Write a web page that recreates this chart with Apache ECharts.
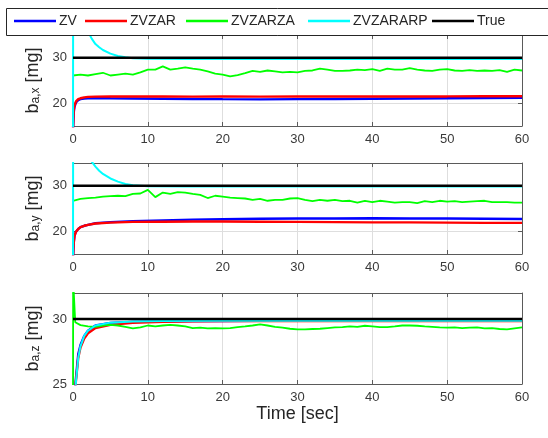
<!DOCTYPE html>
<html><head><meta charset="utf-8">
<script src="https://cdn.jsdelivr.net/npm/echarts@6/dist/echarts.min.js"></script>
<style>html,body{margin:0;padding:0;background:#fff}#c{width:548px;height:438px}</style>
</head><body><div id="c"></div>
<script>
// ---------- data ----------
const seriesNames = ['ZV', 'ZVZAR', 'ZVZARZA', 'ZVZARARP', 'True'];
const yLabels = ['a,x', 'a,y', 'a,z'];
const xLabel = 'Time [sec]';
const yTicks = [[20, 30], [20, 30], [25, 30]];
const yRanges = [[15, 35], [15, 35], [25, 32]];

const tSec = [0,1,2,3,4,5,6,7,8,9,10,11,12,13,14,15,16,17,18,19,20,21,22,23,24,25,26,27,28,29,30,
  31,32,33,34,35,36,37,38,39,40,41,42,43,44,45,46,47,48,49,50,51,52,53,54,55,56,57,58,59,60];
const tTrue = [0, 60];
const tEst = [0, 0.1, 0.2, 0.4, 0.7, 1, 1.5, 2, 3, 5, 8, 12, 16, 20, 25, 30, 35, 40, 45, 50, 55, 60];
const tCyan = [0, 0.03, 0.5, 1, 1.5, 2, 2.5, 3, 3.5, 4, 5, 6, 7, 8, 10, 15, 20, 30, 40, 50, 60];
const tCyanZ = [0, 0.2, 0.4, 0.7, 1, 1.5, 2, 3, 5, 8, 12, 20, 30, 40, 50, 60];
const tGreenZStart = [0, 0.02, 0.3];

// subplot 1 : b_a,x
const trueX = [30, 30];
const zvX = [14, 18, 19.2, 20.2, 20.7, 20.9, 21.05, 21.1, 21.15, 21.1, 21.05, 21.0, 20.95, 20.9, 20.85, 20.9, 20.95, 21.0, 21.05, 21.1, 21.15, 21.2];
const zvzarX = [14, 18.5, 19.5, 20.4, 20.9, 21.1, 21.3, 21.4, 21.45, 21.5, 21.5, 21.5, 21.45, 21.5, 21.45, 21.5, 21.5, 21.5, 21.5, 21.5, 21.55, 21.55];
const zvzarzaX = [26.1, 26.3, 26.1, 26.4, 26.7, 26.1, 26.3, 26.5, 26.3, 26.8,
  27.4, 27.4, 28.1, 27.4, 27.6, 27.9, 27.6, 27.4, 27.0, 26.5,
  26.3, 25.9, 26.2, 26.6, 27.1, 26.9, 27.2, 27.0, 26.8, 26.9,
  26.8, 27.1, 27.2, 27.6, 27.4, 27.1, 27.1, 27.2, 27.4, 27.3,
  27.5, 27.1, 27.6, 27.4, 27.4, 27.7, 27.4, 27.2, 27.1, 27.4,
  27.5, 27.2, 27.1, 27.3, 27.1, 27.2, 27.1, 27.3, 26.9, 27.4, 27.2];
const zvzararpX = [10, 70, 52, 44, 39, 35.8, 34.2, 33.0, 32.3, 31.7, 30.9, 30.4, 30.1, 29.9, 29.8, 29.75, 29.75, 29.75, 29.75, 29.75, 29.75];

// subplot 2 : b_a,y
const trueY = [30, 30];
const zvY = [14, 17.5, 19, 19.9, 20.5, 20.9, 21.2, 21.4, 21.75, 22.0, 22.2, 22.4, 22.55, 22.65, 22.75, 22.8, 22.8, 22.85, 22.8, 22.8, 22.75, 22.7];
const zvzarY = [14, 17.5, 19, 19.9, 20.5, 20.9, 21.2, 21.4, 21.7, 21.9, 22.05, 22.1, 22.15, 22.15, 22.1, 22.05, 22.0, 21.95, 21.95, 21.9, 21.85, 21.85];
const zvzarzaY = [26.7, 27.1, 27.3, 27.4, 27.6, 27.7, 27.8, 27.7, 28.2, 28.3,
  29.1, 27.5, 28.5, 28.2, 28.6, 28.5, 28.2, 28.0, 27.3, 27.8,
  27.6, 27.4, 27.3, 27.2, 26.9, 27.1, 26.7, 26.9, 26.9, 27.2,
  27.3, 26.9, 26.6, 26.9, 26.7, 26.9, 26.6, 26.7, 26.3, 26.7,
  26.4, 26.7, 26.5, 26.3, 26.4, 26.4, 26.2, 26.6, 26.4, 26.7,
  26.5, 26.6, 26.4, 26.5, 26.6, 26.7, 26.4, 26.4, 26.4, 26.3, 26.3];
const zvzararpY = [10, 70, 55, 47, 41, 37, 35.3, 34.2, 33.3, 32.6, 31.6, 30.9, 30.4, 30.1, 29.9, 29.85, 29.85, 29.85, 29.85, 29.85, 29.85];

// subplot 3 : b_a,z
const trueZ = [30, 30];
const zvZ = [22, 23, 24, 25.5, 27.3, 28.0, 28.7, 29.1, 29.5, 29.7, 29.78, 29.82, 29.84, 29.85, 29.86, 29.86, 29.86, 29.86, 29.86, 29.86, 29.86, 29.86];
const zvzarZ = [22, 23, 24, 25.3, 27.0, 27.8, 28.5, 28.9, 29.3, 29.55, 29.7, 29.78, 29.82, 29.84, 29.85, 29.85, 29.85, 29.85, 29.85, 29.85, 29.85, 29.85];
const zvzarzaZStart = [24, 33, 29.75];
const zvzarzaZ = [29.53, 29.43, 29.4, 29.5, 29.55, 29.5, 29.4, 29.28, 29.35, 29.5,
  29.43, 29.5, 29.55, 29.5, 29.43, 29.3, 29.33, 29.28, 29.3, 29.28,
  29.3, 29.38, 29.43, 29.5, 29.58, 29.5, 29.4, 29.33, 29.25, 29.2,
  29.2, 29.23, 29.25, 29.3, 29.35, 29.38, 29.43, 29.4, 29.48, 29.43,
  29.38, 29.38, 29.43, 29.5, 29.5, 29.48, 29.43, 29.4, 29.35, 29.33,
  29.35, 29.3, 29.33, 29.35, 29.28, 29.3, 29.23, 29.2, 29.28, 29.35];
const zvzararpZ = [20, 23.5, 25.2, 27.0, 27.9, 28.7, 29.1, 29.5, 29.72, 29.8, 29.84, 29.86, 29.87, 29.87, 29.87, 29.87];

// ---------- chart ----------
const FONT = 'Liberation Sans, Arial, Helvetica, sans-serif';
const AX = '#5a5a5a', LBL = '#3a3a3a', GRIDC = '#dedede';
const COLORS = {ZV: '#0000ff', ZVZAR: '#ff0000', ZVZARZA: '#00ff00', ZVZARARP: '#00ffff', True: '#000000'};
const WIDTHS = {ZV: 2.4, ZVZAR: 2.4, ZVZARZA: 1.8, ZVZARARP: 2, True: 2.5};
const LEGEND_LEFT = [14, 85, 186, 308, 432];
const zip = (t, v) => t.map((x, i) => [x, v[i]]);

const grids = [
  {left: 73, top: 35, width: 449, height: 91},
  {left: 73, top: 163, width: 449, height: 91},
  {left: 73, top: 293, width: 449, height: 91}
];

const xAxes = [], yAxes = [];
grids.forEach((g, i) => {
  xAxes.push({type: 'value', gridIndex: i, min: 0, max: 60, interval: 10, position: 'bottom',
    axisLine: {show: true, onZero: false, lineStyle: {color: AX, width: 1}},
    axisTick: {show: true, inside: true, length: 4, lineStyle: {color: AX}},
    axisLabel: {show: true, color: LBL, fontSize: 13, fontFamily: FONT, margin: 7},
    splitLine: {show: true, lineStyle: {color: GRIDC, width: 1}},
    name: i === 2 ? xLabel : '', nameLocation: 'middle', nameGap: 19,
    nameTextStyle: {fontSize: 18, fontFamily: FONT, color: '#262626'}});
  xAxes.push({type: 'value', gridIndex: i, min: 0, max: 60, interval: 10, position: 'top',
    axisLine: {show: true, onZero: false, lineStyle: {color: AX, width: 1}},
    axisTick: {show: true, inside: true, length: 4, lineStyle: {color: AX}},
    axisLabel: {show: false}, splitLine: {show: false}});
  const r = yRanges[i];
  yAxes.push({type: 'value', gridIndex: i, min: r[0], max: r[1], position: 'left',
    axisLine: {show: true, onZero: false, lineStyle: {color: AX, width: 1}},
    axisTick: {show: true, inside: true, length: 4, customValues: yTicks[i], lineStyle: {color: AX}},
    axisLabel: {show: true, customValues: yTicks[i], color: LBL, fontSize: 13, fontFamily: FONT, margin: 6},
    splitLine: {show: true, lineStyle: {color: GRIDC, width: 1}},
    name: '{b|b}{s|' + yLabels[i] + '}{b| [mg]}', nameLocation: 'middle', nameRotate: 90, nameGap: 31,
    nameTextStyle: {color: '#262626', fontFamily: FONT,
      rich: {b: {fontSize: 18, lineHeight: 18, verticalAlign: 'top', fontFamily: FONT, color: '#262626'},
             s: {fontSize: 12, lineHeight: 12, verticalAlign: 'bottom', padding: [10, 0, 0, 0], fontFamily: FONT, color: '#262626'}}}});
  yAxes.push({type: 'value', gridIndex: i, min: r[0], max: r[1], position: 'right',
    axisLine: {show: true, onZero: false, lineStyle: {color: AX, width: 1}},
    axisTick: {show: true, inside: true, length: 4, customValues: yTicks[i], lineStyle: {color: AX}},
    axisLabel: {show: false}, splitLine: {show: false}});
});

const plotData = [
  {ZV: zip(tEst, zvX), ZVZAR: zip(tEst, zvzarX), ZVZARZA: zip(tSec, zvzarzaX), ZVZARARP: zip(tCyan, zvzararpX), True: zip(tTrue, trueX)},
  {ZV: zip(tEst, zvY), ZVZAR: zip(tEst, zvzarY), ZVZARZA: zip(tSec, zvzarzaY), ZVZARARP: zip(tCyan, zvzararpY), True: zip(tTrue, trueY)},
  {ZV: zip(tEst, zvZ), ZVZAR: zip(tEst, zvzarZ),
   ZVZARZA: zip(tGreenZStart.concat(tSec.slice(1)), zvzarzaZStart.concat(zvzarzaZ)),
   ZVZARARP: zip(tCyanZ, zvzararpZ), True: zip(tTrue, trueZ)}
];

const series = [];
plotData.forEach((pd, i) => {
  seriesNames.forEach(n => {
    series.push({type: 'line', name: n, xAxisIndex: 2 * i, yAxisIndex: 2 * i, data: pd[n],
      showSymbol: false, symbol: 'none', clip: true, silent: true,
      lineStyle: {color: COLORS[n], width: WIDTHS[n]}, itemStyle: {color: COLORS[n]}});
  });
});

const legends = seriesNames.map((n, k) => ({
  z: 20, left: LEGEND_LEFT[k], top: 14, padding: 0, itemWidth: 42, itemHeight: 2.5, icon: 'rect',
  data: [n], selectedMode: false,
  textStyle: {fontSize: 14, fontFamily: FONT, color: '#262626', padding: [0, 0, 0, -2]}
}));

const chart = echarts.init(document.getElementById('c'), null, {renderer: 'canvas'});
chart.setOption({
  animation: false,
  backgroundColor: '#ffffff',
  grid: grids,
  xAxis: xAxes,
  yAxis: yAxes,
  series: series,
  graphic: [{type: 'rect', z: 10, silent: true,
    shape: {x: 6.5, y: 8.5, width: 560, height: 27},
    style: {fill: '#ffffff', stroke: '#262626', lineWidth: 1}}],
  legend: legends
});
</script></body></html>
